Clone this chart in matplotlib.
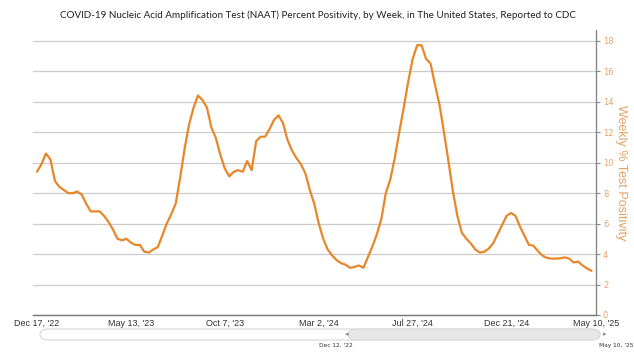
import matplotlib
matplotlib.use("Agg")
import matplotlib.pyplot as plt
from matplotlib.patches import FancyBboxPatch
import numpy as np

# weekly % positivity, Dec 17 '22 .. May 3 '25
positivity = [
    9.4, 9.9, 10.6, 10.2, 8.8, 8.4, 8.2, 8.0, 8.0, 8.1,
    7.9, 7.3, 6.8, 6.8, 6.8, 6.5, 6.1, 5.6, 5.0, 4.9,
    5.0, 4.75, 4.6, 4.6, 4.15, 4.1, 4.3, 4.45, 5.2, 6.0,
    6.6, 7.3, 9.0, 10.9, 12.5, 13.6, 14.4, 14.1, 13.6, 12.3,
    11.6, 10.5, 9.6, 9.1, 9.4, 9.5, 9.4, 10.1, 9.5, 11.4,
    11.7, 11.7, 12.2, 12.8, 13.1, 12.6, 11.5, 10.8, 10.3, 9.9,
    9.3, 8.2, 7.3, 6.0, 5.0, 4.3, 3.9, 3.6, 3.4, 3.3,
    3.1, 3.15, 3.25, 3.1, 3.8, 4.5, 5.3, 6.3, 8.0, 8.9,
    10.3, 12.0, 13.6, 15.3, 16.8, 17.7, 17.7, 16.8, 16.5, 15.1,
    13.8, 12.0, 10.1, 8.1, 6.5, 5.4, 5.0, 4.7, 4.3, 4.1,
    4.15, 4.35, 4.7, 5.3, 5.9, 6.5, 6.7, 6.5, 5.8, 5.2,
    4.6, 4.55, 4.2, 3.9, 3.75, 3.7, 3.7, 3.72, 3.78, 3.7,
    3.45, 3.5, 3.25, 3.05, 2.9,
]
weeks = np.arange(len(positivity))

tick_weeks = [0, 21, 42, 63, 84, 105, 125]
tick_labels = ["Dec 17, '22", "May 13, '23", "Oct 7, '23", "Mar 2, '24",
               "Jul 27, '24", "Dec 21, '24", "May 10, '25"]
y_ticks = [0, 2, 4, 6, 8, 10, 12, 14, 16, 18]

line_color = "#e8872a"

fig = plt.figure(figsize=(6.34, 3.55), dpi=100)
ax = fig.add_axes([33 / 634, 40 / 355, (596 - 33) / 634, (315 - 30) / 355])

ax.plot(weeks, positivity, color=line_color, lw=1.6,
        solid_joinstyle="round", solid_capstyle="round")

ax.set_xlim(-0.9, 125)
ax.set_ylim(0, 18.7)

# grid
ax.set_yticks(y_ticks)
ax.grid(axis="y", color="#cccccc", lw=0.9)
ax.grid(axis="x", visible=False)
ax.set_axisbelow(True)

# spines
for s in ["top", "left"]:
    ax.spines[s].set_visible(False)
ax.spines["bottom"].set_color("#777777")
ax.spines["bottom"].set_linewidth(1.0)
ax.spines["right"].set_color("#888888")
ax.spines["right"].set_linewidth(1.0)

# y axis on right
ax.yaxis.tick_right()
ax.yaxis.set_label_position("right")
ax.tick_params(axis="y", length=3, width=0.8, color="#888888",
               labelsize=6, labelcolor="#e6a468", pad=2)
ax.set_ylabel("Weekly % Test Positivity", rotation=270, color="#e8a060",
              fontsize=9, labelpad=10, family="Liberation Sans")

ax.set_xticks(tick_weeks)
ax.set_xticklabels(tick_labels, family="Liberation Sans")
ax.tick_params(axis="x", length=0, labelsize=6.5, labelcolor="#333333", pad=3)

fig.text(318 / 634, 1 - 15 / 355, "COVID-19 Nucleic Acid Amplification Test (NAAT) Percent Positivity, "
         "by Week, in The United States, Reported to CDC",
         ha="center", va="center", fontsize=7.1, color="#222222", family="Lato")

# navigator bar at the bottom
W, H = 634, 355
bar = FancyBboxPatch((40 / W, 1 - 340 / H), 560 / W, 11 / H,
                     boxstyle="round,pad=0,rounding_size=0.015",
                     transform=fig.transFigure, facecolor="white",
                     edgecolor="#d6d6d6", lw=0.8)
fig.patches.append(bar)
sel = FancyBboxPatch((348 / W, 1 - 340 / H), 252 / W, 11 / H,
                     boxstyle="round,pad=0,rounding_size=0.015",
                     transform=fig.transFigure, facecolor="#e6e6e6",
                     edgecolor="#d6d6d6", lw=0.6)
fig.patches.append(sel)
fig.text(347 / W, 1 - 334 / H, "\u25c2", ha="center", va="center", fontsize=5, color="#888888")
fig.text(605 / W, 1 - 334 / H, "\u25b8", ha="center", va="center", fontsize=5, color="#888888")
fig.text(336 / W, 1 - 345 / H, "Dec 12, '22", ha="center", va="center", fontsize=4.2, color="#333333")
fig.text(616 / W, 1 - 345 / H, "May 10, '25", ha="center", va="center", fontsize=4.2, color="#333333")

fig.savefig("out.png", dpi=100, facecolor="white")
